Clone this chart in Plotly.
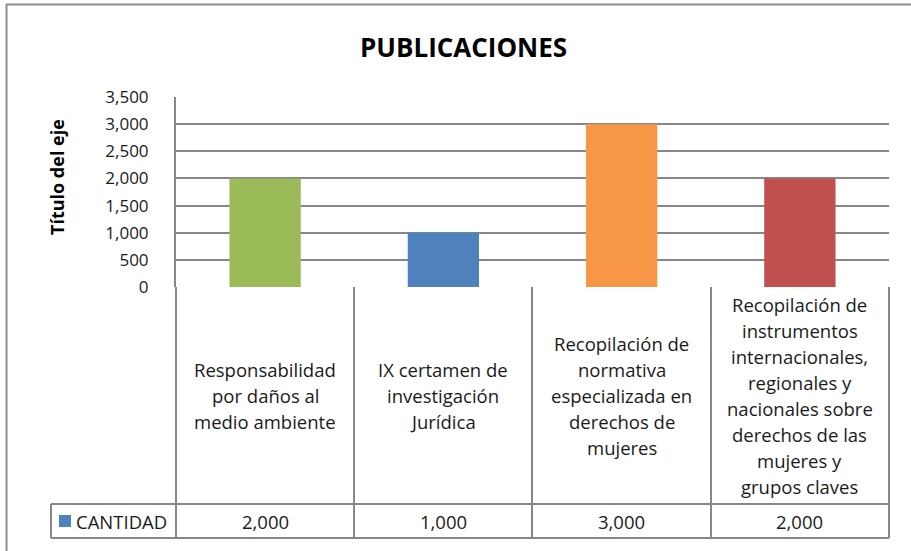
import plotly.graph_objects as go

categories = [
    "Responsabilidad<br>por daños al<br>medio ambiente",
    "IX certamen de<br>investigación<br>Jurídica",
    "Recopilación de<br>normativa<br>especializada en<br>derechos de<br>mujeres",
    "Recopilación de<br>instrumentos<br>internacionales,<br>regionales y<br>nacionales sobre<br>derechos de las<br>mujeres y<br>grupos claves",
]
values = [2000, 1000, 3000, 2000]
bar_colors = ["#9BBB59", "#4F81BD", "#F79646", "#C0504D"]
series_name = "CANTIDAD"
tick_vals = [0, 500, 1000, 1500, 2000, 2500, 3000, 3500]

W, H = 911, 551
L, R, T, B = 176, 889, 97, 287
FONT = "Open Sans, Noto Sans, sans-serif"
GRID = "#878787"
TXT = "#1a1a1a"

fig = go.Figure(go.Bar(
    x=list(range(len(values))), y=values, marker_color=bar_colors,
    marker_line_width=0, width=0.4, name=series_name, showlegend=False,
))

def px(xp):
    return (xp - L) / (R - L)

def py(yp):
    return (B - yp) / (B - T)

shapes = []
# outer chart border (top and left)
shapes.append(dict(type="line", xref="paper", yref="paper", x0=px(6), x1=px(912),
                   y0=py(4.5), y1=py(4.5), line=dict(color="#8c8c8c", width=2)))
shapes.append(dict(type="line", xref="paper", yref="paper", x0=px(6.5), x1=px(6.5),
                   y0=py(4), y1=py(552), line=dict(color="#8c8c8c", width=2)))

# data table
row_top, row_mid, row_bot = 287, 504, 538
col_lines = [176, 354, 532, 711, 889]
tl = dict(color=GRID, width=2)
for xv in col_lines:
    shapes.append(dict(type="line", xref="paper", yref="paper", x0=px(xv), x1=px(xv),
                       y0=py(row_top), y1=py(row_bot), line=tl))
shapes.append(dict(type="line", xref="paper", yref="paper", x0=px(51), x1=px(51),
                   y0=py(row_mid), y1=py(row_bot), line=tl))
for yv in [row_mid, row_bot]:
    shapes.append(dict(type="line", xref="paper", yref="paper", x0=px(51), x1=px(889),
                       y0=py(yv), y1=py(yv), line=tl))
# legend key
shapes.append(dict(type="rect", xref="paper", yref="paper", x0=px(59), x1=px(71),
                   y0=py(527), y1=py(515), fillcolor="#4F81BD", line_width=0))

annotations = []
LINE_H = 26
CELL_MID = 395.5
for i, (c, v) in enumerate(zip(categories, values)):
    lines = c.split("<br>")
    n = len(lines)
    for k, ln in enumerate(lines):
        yc = CELL_MID + (k - (n - 1) / 2) * LINE_H
        annotations.append(dict(x=i, xref="x", y=py(yc), yref="paper",
                                text=ln, showarrow=False, xanchor="center", yanchor="middle",
                                font=dict(family=FONT, size=18.5, color=TXT)))
    annotations.append(dict(x=i, xref="x", y=py(521), yref="paper",
                            text=f"{v:,}", showarrow=False, xanchor="center", yanchor="middle",
                            font=dict(family=FONT, size=18.5, color=TXT)))
annotations.append(dict(x=px(74), xref="paper", y=py(521), yref="paper", text=series_name,
                        showarrow=False, xanchor="left", yanchor="middle",
                        font=dict(family=FONT, size=18.5, color=TXT)))
annotations.append(dict(x=px(463), xref="paper", y=py(47), yref="paper", text="<b>PUBLICACIONES</b>",
                        showarrow=False, xanchor="center", yanchor="middle",
                        font=dict(family=FONT, size=26, color="#000000")))
annotations.append(dict(x=px(57), xref="paper", y=py(177), yref="paper", text="<b>Título del eje</b>",
                        showarrow=False, xanchor="center", yanchor="middle", textangle=-90,
                        font=dict(family=FONT, size=18, color="#000000")))

fig.update_layout(
    width=W, height=H,
    margin=dict(l=L, r=W - R, t=T, b=H - B, autoexpand=False),
    paper_bgcolor="white", plot_bgcolor="white",
    shapes=shapes, annotations=annotations,
    xaxis=dict(range=[-0.5, 3.5], showticklabels=False, showgrid=False, zeroline=False,
               showline=False, ticks=""),
    yaxis=dict(range=[0, 3500], tickvals=tick_vals, tickformat=",d",
               showgrid=True, gridcolor=GRID, gridwidth=2, zeroline=False,
               showline=True, linecolor=GRID, linewidth=2, ticks="",
               tickfont=dict(family=FONT, size=17, color=TXT), ticklabelstandoff=22),
    font=dict(family=FONT),
)

fig.write_html("out.html", config={"displayModeBar": False},
               post_script="document.body.style.margin='0px';")
